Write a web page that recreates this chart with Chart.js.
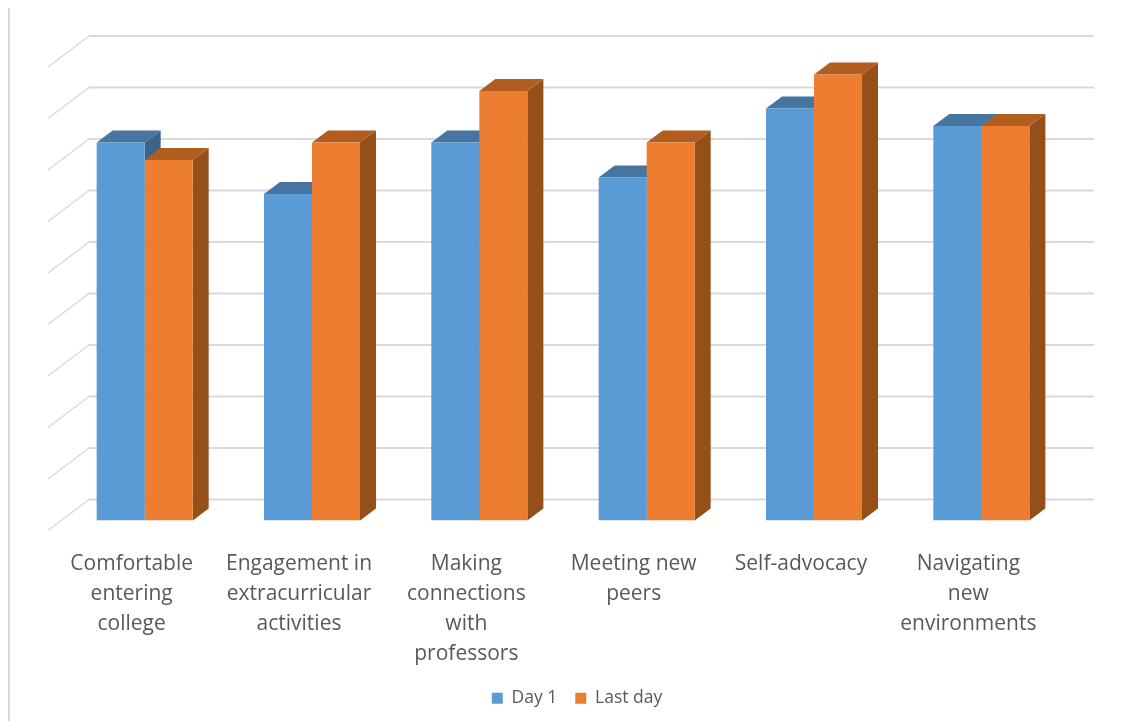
<!DOCTYPE html>
<html>
<head>
<meta charset="utf-8">
<title>Day 1 vs Last day</title>
<script src="https://cdn.jsdelivr.net/npm/chart.js@4"></script>
<style>
    html, body { margin: 0; padding: 0; background: #fff; }
    #wrap { position: relative; width: 1121px; height: 721px; overflow: hidden; }
    #frame { position: absolute; left: 8px; top: 8px; bottom: 0; width: 2px; background: #d9d9d9; }
</style>
</head>
<body>
<div id="wrap">
    <div id="frame"></div>
    <canvas id="chart"></canvas>
</div>
<script>
const categories = [
    ['Comfortable', 'entering', 'college'],
    ['Engagement in', 'extracurricular', 'activities'],
    ['Making', 'connections', 'with', 'professors'],
    ['Meeting new', 'peers'],
    ['Self-advocacy'],
    ['Navigating', 'new', 'environments']
];
const dayOne = [3.67, 3.17, 3.67, 3.33, 4, 3.83];
const lastDay = [3.5, 3.67, 4.17, 3.67, 4.33, 3.83];
const axisMax = 4.5;
const axisStep = 0.5;

const TEXT_COLOR = '#595959';
const GRID_COLOR = '#d9d9d9';
const FONT = '"Open Sans", sans-serif';

// Depth of the fake 3D look, all relative to the plane of the bar fronts
const barDepth = { x: 16, y: 12 };
const wallBack = { left: 28, right: 29, y: 21 };
const wallFront = { x: 13, y: 10 };

const shades = [
    { top: '#4675a0', side: '#3a6489' },
    { top: '#b25d20', side: '#955019' }
];

function polygon(ctx, points, color) {
    ctx.fillStyle = color;
    ctx.beginPath();
    points.forEach(([x, y], i) => (i ? ctx.lineTo(x, y) : ctx.moveTo(x, y)));
    ctx.closePath();
    ctx.fill();
}

const fake3d = {
    id: 'fake3d',
    afterLayout(chart) {
        // The legend sits a bit right of the centre of the plot
        chart.legend.left += 14;
        chart.legend.right += 14;
    },
    beforeDatasetsDraw(chart) {
        const ctx = chart.ctx;
        const area = chart.chartArea;
        const yScale = chart.scales.y;

        // Floor, side wall and back wall lines, one per (hidden) tick of the y axis
        ctx.save();
        ctx.strokeStyle = GRID_COLOR;
        yScale.ticks.forEach(tick => {
            const y = yScale.getPixelForValue(tick.value);
            ctx.lineWidth = 1.5;
            ctx.beginPath();
            ctx.moveTo(area.left - wallFront.x, y + wallFront.y);
            ctx.lineTo(area.left + wallBack.left, y - wallBack.y);
            ctx.stroke();
            ctx.lineWidth = 2;
            ctx.beginPath();
            ctx.moveTo(area.left + wallBack.left, y - wallBack.y);
            ctx.lineTo(area.right + wallBack.right, y - wallBack.y);
            ctx.stroke();
        });

        // Top and side faces go under the fronts that Chart.js draws next
        chart.data.datasets.forEach((dataset, d) => {
            chart.getDatasetMeta(d).data.forEach(bar => {
                const { x, y, base, width } = bar.getProps(['x', 'y', 'base', 'width'], true);
                const left = x - width / 2;
                const right = x + width / 2;
                polygon(ctx, [
                    [right, y], [right + barDepth.x, y - barDepth.y],
                    [right + barDepth.x, base - barDepth.y], [right, base]
                ], shades[d].side);
                polygon(ctx, [
                    [left, y], [left + barDepth.x, y - barDepth.y],
                    [right + barDepth.x, y - barDepth.y], [right, y]
                ], shades[d].top);
            });
        });
        ctx.restore();
    }
};

const chart = new Chart(document.getElementById('chart'), {
    type: 'bar',
    data: {
        labels: categories,
        datasets: [
            { label: 'Day 1', data: dayOne, backgroundColor: '#5b9bd5' },
            { label: 'Last day', data: lastDay, backgroundColor: '#ed7d31' }
        ]
    },
    plugins: [fake3d],
    options: {
        responsive: true,
        maintainAspectRatio: false,
        animation: false,
        layout: { padding: { left: 61, right: 56, top: 57, bottom: 4 } },
        datasets: { bar: { categoryPercentage: 0.574, barPercentage: 1 } },
        plugins: {
            tooltip: { enabled: false },
            legend: {
                position: 'bottom',
                labels: {
                    boxWidth: 11,
                    boxHeight: 11,
                    padding: 18,
                    color: TEXT_COLOR,
                    font: { family: FONT, size: 17.5 }
                }
            }
        },
        scales: {
            x: {
                // tick padding counts twice in the axis height, take the spare part back
                afterFit(scale) { scale.height -= 19; },
                grid: { display: false },
                border: { display: false },
                ticks: {
                    color: TEXT_COLOR,
                    font: { family: FONT, size: 21, lineHeight: 30 / 21 },
                    padding: 21,
                    labelOffset: -13,
                    maxRotation: 0,
                    autoSkip: false
                }
            },
            y: {
                display: false,
                min: 0,
                max: axisMax,
                ticks: { stepSize: axisStep }
            }
        }
    }
});
</script>
</body>
</html>
